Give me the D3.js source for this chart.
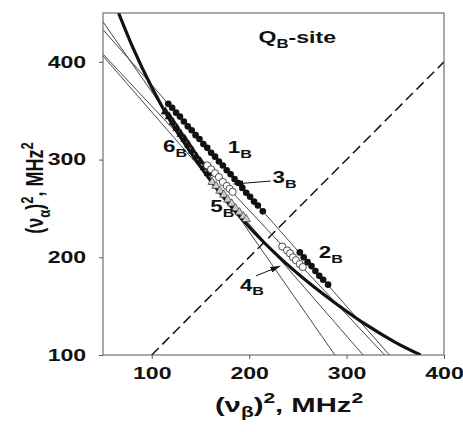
<!DOCTYPE html>
<html>
<head>
<meta charset="utf-8">
<script src="https://cdn.jsdelivr.net/npm/d3@7"></script>
<style>
  body { margin: 0; background: #fff; }
  text { font-family: Arial, "Liberation Sans", sans-serif; font-weight: bold; fill: #111; }
</style>
</head>
<body>
<svg id="chart" width="463" height="432"></svg>
<script>
var xTicks = [100, 200, 300, 400]
  , yTicks = [100, 200, 300, 400]
;

// thick curve
var curveX = [66, 80, 100, 120, 145, 170, 200, 230, 260, 290, 320, 350, 376]
  , curveY = [450, 416, 374, 338, 300, 266, 231, 201, 175, 152, 131, 113, 100]
;

// thin fitted lines: left end and bottom end
var fitX0 = [50, 50, 50, 50]
  , fitY0 = [441, 433, 408, 406]
  , fitX1 = [288, 344, 339, 317]
  , fitY1 = [100, 100, 100, 100]
;

var diagX = [100, 400]
  , diagY = [100, 400]
;

var dots1B = [[117,357],[121,353],[125,348],[129,344],[133,339],[137,334],[141,330],[145,325],
              [149,321],[153,316],[157,312],[161,307],[165,303],[169,298],[173,294],[177,289],
              [181,285],[185,280],[189,276],[193,271],[197,266],[201,262],[205,257],[209,253],[214,247]];
var dots2B = [[252,205],[256,200],[260,195],[264,191],[268,186],[272,181],[276,177],[281,172]];
var open3B = [[157,294],[161,290],[165,286],[169,282],[173,277],[177,273],[180,270],[183,267]];
var open4B = [[234,211],[239,207],[242,204],[245,200],[248,197],[252,193],[255,190]];
var tri5B  = [[162,277],[166,273],[170,268],[174,264],[178,259],[182,255],[186,250],[190,246],[194,242],[197,239]];
var tri6B  = [[114,349],[118,344],[122,338],[126,332],[130,326],[134,321],[138,315],[142,309],
              [146,303],[150,298],[154,292],[158,286]];

var svg = d3.select('#chart')
  , x = d3.scaleLinear().domain([50, 400]).range([103, 444])
  , y = d3.scaleLinear().domain([100, 450]).range([355, 13])
  , sx = 1.4
;

svg.append('rect').attr('width', 463).attr('height', 432).attr('fill', '#fff');

svg.append('clipPath').attr('id', 'plot')
  .append('rect').attr('x', 103).attr('y', 13).attr('width', 341).attr('height', 342);

var g = svg.append('g').attr('clip-path', 'url(#plot)');

// diagonal
g.append('line')
  .attr('x1', x(diagX[0])).attr('y1', y(diagY[0]))
  .attr('x2', x(diagX[1])).attr('y2', y(diagY[1]))
  .attr('stroke', '#111').attr('stroke-width', 1.5)
  .attr('stroke-dasharray', '10,5');

// fitted lines
g.selectAll('line.fit').data(fitX0).enter().append('line')
  .attr('class', 'fit')
  .attr('x1', function (d, i) { return x(fitX0[i]); })
  .attr('y1', function (d, i) { return y(fitY0[i]); })
  .attr('x2', function (d, i) { return x(fitX1[i]); })
  .attr('y2', function (d, i) { return y(fitY1[i]); })
  .attr('stroke', '#333').attr('stroke-width', 0.9);

// thick curve
var pts = curveX.map(function (v, i) { return [v, curveY[i]]; });
g.append('path')
  .attr('d', d3.line().x(function (d) { return x(d[0]); })
                      .y(function (d) { return y(d[1]); })
                      .curve(d3.curveMonotoneX)(pts))
  .attr('fill', 'none').attr('stroke', '#111').attr('stroke-width', 3.2);

// markers
var tri = d3.symbol().type(d3.symbolTriangle).size(30);

g.selectAll('path.t6').data(tri6B).enter().append('path')
  .attr('d', tri)
  .attr('transform', function (d) { return 'translate(' + x(d[0]) + ',' + y(d[1]) + ')'; })
  .attr('fill', '#111').attr('stroke', '#111').attr('stroke-width', 0.5);

g.selectAll('path.t5').data(tri5B).enter().append('path')
  .attr('d', tri)
  .attr('transform', function (d) { return 'translate(' + x(d[0]) + ',' + y(d[1]) + ')'; })
  .attr('fill', '#ccc').attr('stroke', '#333').attr('stroke-width', 0.7);

g.selectAll('circle.o').data(open3B.concat(open4B)).enter().append('circle')
  .attr('cx', function (d) { return x(d[0]); })
  .attr('cy', function (d) { return y(d[1]); })
  .attr('r', 3.6)
  .attr('fill', '#fff').attr('stroke', '#222').attr('stroke-width', 0.8);

g.selectAll('circle.f').data(dots1B.concat(dots2B)).enter().append('circle')
  .attr('cx', function (d) { return x(d[0]); })
  .attr('cy', function (d) { return y(d[1]); })
  .attr('r', 3.3)
  .attr('fill', '#111');

// frame
svg.append('rect').attr('x', 103).attr('y', 13).attr('width', 341).attr('height', 342)
  .attr('fill', 'none').attr('stroke', '#555').attr('stroke-width', 1);

// axes
var xAxis = svg.append('g').attr('transform', 'translate(0,355)')
  .call(d3.axisBottom(x).tickValues(xTicks).tickSize(4).tickPadding(8));
var yAxis = svg.append('g').attr('transform', 'translate(103,0)')
  .call(d3.axisLeft(y).tickValues(yTicks).tickSize(4).tickPadding(8));

[xAxis, yAxis].forEach(function (a) {
  a.select('.domain').remove();
  a.selectAll('.tick line').attr('stroke', '#555');
  a.selectAll('.tick text')
    .attr('font-size', 16.5).attr('font-family', null).attr('fill', '#111')
    .attr('transform', 'scale(' + sx + ',1)');
});

// labels with subscripts
var _label = function (px, py, main, sub, size, anchor) {
  var t = svg.append('text')
    .attr('transform', 'translate(' + px + ',' + py + ') scale(' + sx + ',1)')
    .attr('font-size', size)
    .attr('text-anchor', anchor || 'start');
  t.append('tspan').text(main);
  t.append('tspan').attr('dy', size * 0.3).attr('font-size', size * 0.72).text(sub);
  return t;
};

_label(x(178), y(307), '1', 'B', 16);
_label(x(224), y(276), '3', 'B', 16);
_label(x(111.5), y(308), '6', 'B', 16);
_label(x(160), y(246), '5', 'B', 16);
_label(x(190.5), y(166), '4', 'B', 16);
_label(x(271.5), y(199), '2', 'B', 16);

var title = svg.append('text')
  .attr('transform', 'translate(336,43) scale(' + sx + ',1)')
  .attr('font-size', 16.5).attr('text-anchor', 'end');
title.append('tspan').text('Q');
title.append('tspan').attr('dy', 5).attr('font-size', 12).text('B');
title.append('tspan').attr('dy', -5).text('-site');

// leader lines
svg.append('defs').append('marker')
  .attr('id', 'arr').attr('viewBox', '0 0 10 6').attr('refX', 10).attr('refY', 3)
  .attr('markerWidth', 10).attr('markerHeight', 6).attr('orient', 'auto')
  .append('path').attr('d', 'M0,0L10,3L0,6Z').attr('fill', '#111');

svg.append('line')
  .attr('x1', x(222)).attr('y1', y(278)).attr('x2', x(184)).attr('y2', y(275))
  .attr('stroke', '#111').attr('stroke-width', 1).attr('marker-end', 'url(#arr)');
svg.append('line')
  .attr('x1', x(207)).attr('y1', y(181)).attr('x2', x(232)).attr('y2', y(191))
  .attr('stroke', '#111').attr('stroke-width', 1).attr('marker-end', 'url(#arr)');

// axis titles
var xt = svg.append('text')
  .attr('transform', 'translate(289,412) scale(1.5,1)')
  .attr('font-size', 19.5).attr('text-anchor', 'middle');
xt.append('tspan').text('(ν');
xt.append('tspan').attr('dy', 5).attr('font-size', 14).text('β');
xt.append('tspan').attr('dy', -5).text(')');
xt.append('tspan').attr('dy', -9).attr('font-size', 14).text('2');
xt.append('tspan').attr('dy', 9).text(', MHz');
xt.append('tspan').attr('dy', -9).attr('font-size', 14).text('2');

var yt = svg.append('text')
  .attr('transform', 'translate(43,188) rotate(-90) scale(1,1.3)')
  .attr('font-size', 18).attr('text-anchor', 'middle');
yt.append('tspan').text('(ν');
yt.append('tspan').attr('dy', 5).attr('font-size', 13).text('α');
yt.append('tspan').attr('dy', -5).text(')');
yt.append('tspan').attr('dy', -8).attr('font-size', 13).text('2');
yt.append('tspan').attr('dy', 8).text(', MHz');
yt.append('tspan').attr('dy', -8).attr('font-size', 13).text('2');
</script>
</body>
</html>
